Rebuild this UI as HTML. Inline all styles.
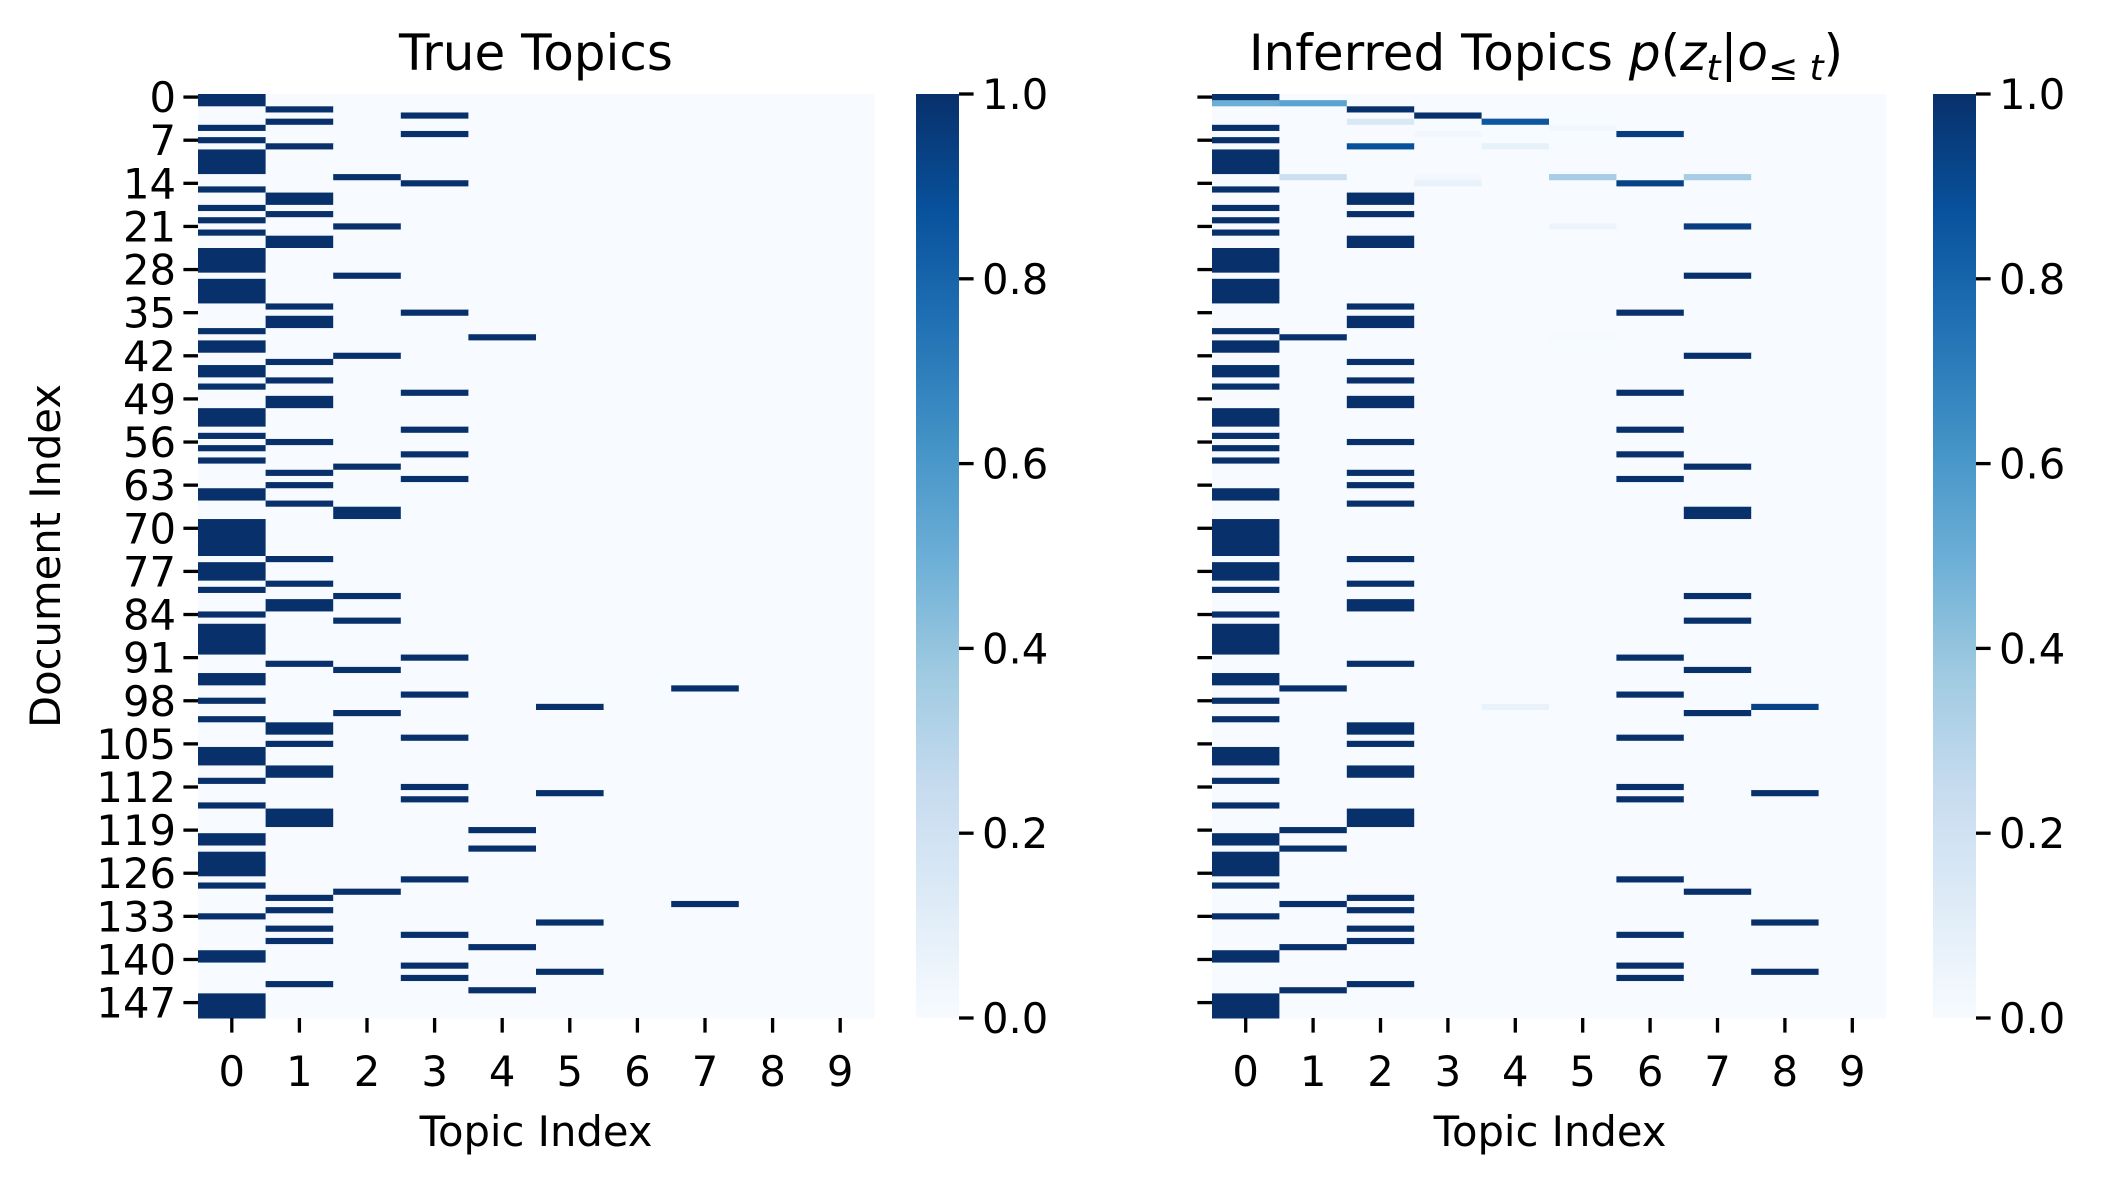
<!DOCTYPE html>
<html><head><meta charset="utf-8">
<style>
html,body{margin:0;padding:0;background:#fff;}
svg{display:block;font-family:"DejaVu Sans","Liberation Sans",sans-serif;}
</style></head>
<body>
<svg id="fig" width="2102" height="1178" viewBox="0 0 2102 1178" xmlns="http://www.w3.org/2000/svg">
<defs>
<linearGradient id="blues" x1="0" y1="1" x2="0" y2="0">
<stop offset="0" stop-color="#f7fbff"/><stop offset="0.125" stop-color="#deebf7"/><stop offset="0.25" stop-color="#c6dbef"/><stop offset="0.375" stop-color="#9ecae1"/><stop offset="0.5" stop-color="#6baed6"/><stop offset="0.625" stop-color="#4292c6"/><stop offset="0.75" stop-color="#2171b5"/><stop offset="0.875" stop-color="#08519c"/><stop offset="1" stop-color="#08306b"/>
</linearGradient>
</defs>
<text x="536" y="70" font-size="50" text-anchor="middle">True Topics</text>
<text x="1546" y="70" font-size="50" text-anchor="middle">Inferred Topics <tspan font-style="italic">p</tspan>(<tspan font-style="italic">z</tspan><tspan font-style="italic" font-size="36" dy="10">t</tspan><tspan dy="-10">|</tspan><tspan font-style="italic">o</tspan><tspan font-size="36" dy="10">≤ </tspan><tspan font-style="italic" font-size="36">t</tspan><tspan dy="-10">)</tspan></text>
<text transform="translate(60,556) rotate(-90)" font-size="41.7" text-anchor="middle">Document Index</text>
<text x="536" y="1146" font-size="41.7" text-anchor="middle">Topic Index</text>
<text x="1550" y="1146" font-size="41.7" text-anchor="middle">Topic Index</text>
<g id="left"></g><g id="right"></g>
</svg>
<script>
const topics = [0,1,2,3,4,5,6,7,8,9];
const rowTicks = [0,7,14,21,28,35,42,49,56,63,70,77,84,91,98,105,112,119,126,133,140,147];
const cbarTicks = [0.0,0.2,0.4,0.6,0.8,1.0];
const trueTopic = [
0,0,1,3,1,0,3,0,1,0, 0,0,0,2,3,0,1,1,0,1, 0,2,0,1,1,0,0,0,0,2, 0,0,0,0,1,3,1,1,0,4,
0,0,2,1,0,0,1,0,3,1, 1,0,0,0,3,0,1,0,3,0, 2,1,3,1,0,0,1,2,2,0, 0,0,0,0,0,1,0,0,0,1,
0,2,1,1,0,2,0,0,0,0, 0,3,1,2,0,0,7,3,0,5, 2,0,1,1,3,1,0,0,0,1, 1,0,3,5,3,0,1,1,1,4,
0,0,4,0,0,0,0,3,0,2, 1,7,1,0,5,1,3,1,4,0, 0,3,5,3,1,4,0,0,0,0];
const inferredTopic = [
0,0,2,6,2,0,6,0,2,0, 0,0,0,7,6,0,2,2,0,2, 0,7,0,2,2,0,0,0,0,7, 0,0,0,0,2,6,2,2,0,1,
0,0,7,2,0,0,2,0,6,2, 2,0,0,0,6,0,2,0,6,0, 7,2,6,2,0,0,2,7,7,0, 0,0,0,0,0,2,0,0,0,2,
0,7,2,2,0,7,0,0,0,0, 0,6,2,7,0,0,1,6,0,8, 7,0,2,2,6,2,0,0,0,2, 2,0,6,8,6,0,2,2,2,1,
0,0,1,0,0,0,0,6,0,7, 2,1,2,0,8,2,6,2,1,0, 0,6,8,6,2,1,0,0,0,0];
const softRows = [1,1,3,4,4,5,5,6,6,8,8,13,13,13,13,14,14,21,21,39,39,99,99];
const softCols = [0,1,3,2,4,0,5,3,6,2,4,1,3,5,7,3,6,5,7,1,5,4,8];
const softVals = [0.50,0.55,1.0,0.15,0.85,1.0,0.03,0.03,0.95,0.88,0.08,0.22,0.02,0.35,0.35,0.07,0.93,0.05,0.95,1.0,0.01,0.07,0.93];

const stops=[[247,251,255],[222,235,247],[198,219,239],[158,202,225],[107,174,214],[66,146,198],[33,113,181],[8,81,156],[8,48,107]];
function blues(v){v=Math.max(0,Math.min(1,v));const t=v*8;const i=Math.min(7,Math.floor(t));const f=t-i;const a=stops[i],b=stops[i+1];
return 'rgb('+a.map((c,k)=>Math.round(c+(b[k]-c)*f)).join(',')+')';}
const NS='http://www.w3.org/2000/svg';
function mk(tag,attrs,parent){const e=document.createElementNS(NS,tag);for(const k in attrs)e.setAttribute(k,attrs[k]);parent.appendChild(e);return e;}

const Y0=94,Y1=1018,NR=150;
function yScale(r){return Y0+(Y1-Y0)*r/NR;}
function cbScale(v){return Y1-(Y1-Y0)*v;}

function buildMatrix(argmax,sr,sc,sv){
  const m=argmax.map(t=>topics.map(c=>c===t?1:0));
  const touched={};
  sr.forEach((r,i)=>{if(!touched[r]){m[r]=topics.map(()=>0);touched[r]=1;}m[r][sc[i]]=sv[i];});
  return m;
}
function drawPanel(g,X0,X1,mat,showYLabels,cbX,prefix){
  const cw=(X1-X0)/topics.length;
  const xScale=c=>X0+cw*c;
  const hm=mk('g',{},g);
  
  
  mat.forEach((row,r)=>{row.forEach((v,c)=>{
    const y0=yScale(r),y1=yScale(r+1);
    const rect=mk('rect',{x:xScale(c),y:y0,width:cw+0.5,height:(y1-y0)+0.5,fill:blues(v)},hm);
    
    
  });});
  rowTicks.forEach(r=>{
    const y=yScale(r+0.5);
    const tk=mk('line',{x1:X0-14.6,x2:X0,y1:y,y2:y,stroke:'#000','stroke-width':3.3},g);
    
    
    if(showYLabels){const t=mk('text',{x:X0-22,y:y+15,'font-size':41.7,'text-anchor':'end'},g);t.textContent=r;
      
      }
  });
  topics.forEach(c=>{
    const x=xScale(c+0.5);
    const tk=mk('line',{x1:x,x2:x,y1:Y1,y2:Y1+14.6,stroke:'#000','stroke-width':3.3},g);
    
    
    const t=mk('text',{x:x,y:1086,'font-size':41.7,'text-anchor':'middle'},g);t.textContent=c;
    
    
  });
  const cb=mk('rect',{x:cbX,y:Y0,width:43,height:Y1-Y0,fill:'url(#blues)'},g);
  
  
  cbarTicks.forEach(v=>{
    const y=cbScale(v);
    const tk=mk('line',{x1:cbX+43,x2:cbX+57.6,y1:y,y2:y,stroke:'#000','stroke-width':3.3},g);
    
    
    const t=mk('text',{x:cbX+66,y:y+15,'font-size':41.7},g);t.textContent=v.toFixed(1);
    
    
  });
}
const trueMat=buildMatrix(trueTopic,[],[],[]);
const infMat=buildMatrix(inferredTopic,softRows,softCols,softVals);
drawPanel(document.getElementById('left'),198,874,trueMat,true,916,'true-topics');
drawPanel(document.getElementById('right'),1212,1886,infMat,false,1933,'inferred-topics');
</script>
</body></html>
